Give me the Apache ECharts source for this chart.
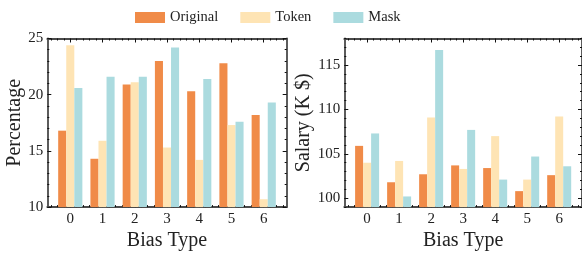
<!DOCTYPE html>
<html><head><meta charset="utf-8">
<script src="https://cdn.jsdelivr.net/npm/echarts@6/dist/echarts.min.js"></script>
<style>html,body{margin:0;padding:0;background:#fff}#c{width:582px;height:256px}</style>
</head><body><div id="c"></div>
<script>
var categories = [0, 1, 2, 3, 4, 5, 6];
var seriesNames = ['Original', 'Token', 'Mask'];
var pctOriginal = [16.8, 14.3, 20.9, 23.0, 20.3, 22.8, 18.2];
var pctToken    = [24.4, 15.9, 21.1, 15.3, 14.2, 17.3, 10.7];
var pctMask     = [20.6, 21.6, 21.6, 24.2, 21.4, 17.6, 19.3];
var salOriginal = [105.9, 101.8, 102.7, 103.7, 103.4, 100.8, 102.6];
var salToken    = [104.0, 104.2, 109.1, 103.3, 107.0, 102.1, 109.2];
var salMask     = [107.3, 100.2, 116.7, 107.7, 102.1, 104.7, 103.6];
var leftTicks = [10, 15, 20, 25];
var rightTicks = [100, 105, 110, 115];

var colors = ['#f08b48', '#fee4b4', '#abdbdf'];
var FONT = '"Liberation Serif", "Times New Roman", serif';
var SPINE = '#4a4a4a';
var TXT = '#222';

var xMin = -0.7125, xMax = 6.7125;
var minorX = [];
for (var k = -3; k <= 33; k++) { var v = Math.round(k * 0.2 * 10) / 10; if (Math.abs(v - Math.round(v)) > 1e-6) minorX.push(v); }

var grids = [
  {left: 47.3, top: 38.5, width: 239.4, height: 174.8},
  {left: 344.3, top: 38.5, width: 239.4, height: 174.8}
];
var yConf = [
  {min: 10, max: 25, major: leftTicks, name: 'Percentage', nameGap: 21},
  {min: 99, max: 118, major: rightTicks, name: 'Salary (K $)', nameGap: 29}
];

var xAxes = [], yAxes = [];
function tickStyle(len){ return {show: true, inside: true, length: len, lineStyle: {color: '#111', width: 1}}; }
var hiddenLine = {show: false, onZero: false};
grids.forEach(function(g, gi){
  xAxes.push({type: 'value', gridIndex: gi, position: 'bottom', min: xMin, max: xMax,
    axisLine: {show: true, onZero: false, lineStyle: {color: SPINE, width: 1.8}},
    axisTick: Object.assign(tickStyle(4), {customValues: categories}),
    axisLabel: {show: true, customValues: categories, margin: 4, color: TXT, fontFamily: FONT, fontSize: 15},
    splitLine: {show: false},
    name: 'Bias Type', nameLocation: 'middle', nameGap: 18,
    nameTextStyle: {fontFamily: FONT, fontSize: 20, color: TXT}
  });
  xAxes.push({type: 'value', gridIndex: gi, position: 'bottom', min: xMin, max: xMax,
    axisLine: hiddenLine, axisTick: Object.assign(tickStyle(2), {customValues: minorX}),
    axisLabel: {show: false}, splitLine: {show: false}});
  xAxes.push({type: 'value', gridIndex: gi, position: 'top', min: xMin, max: xMax,
    axisLine: {show: true, onZero: false, lineStyle: {color: SPINE, width: 1.8}},
    axisTick: Object.assign(tickStyle(4), {customValues: categories}),
    axisLabel: {show: false}, splitLine: {show: false}});
  xAxes.push({type: 'value', gridIndex: gi, position: 'top', min: xMin, max: xMax,
    axisLine: hiddenLine, axisTick: Object.assign(tickStyle(2), {customValues: minorX}),
    axisLabel: {show: false}, splitLine: {show: false}});

  var yc = yConf[gi];
  var minorY = [];
  for (var t = yc.min; t <= yc.max; t++) { if (yc.major.indexOf(t) < 0) minorY.push(t); }
  yAxes.push({type: 'value', gridIndex: gi, position: 'left', min: yc.min, max: yc.max,
    axisLine: {show: true, onZero: false, lineStyle: {color: SPINE, width: 1.8}},
    axisTick: Object.assign(tickStyle(4), {customValues: yc.major}),
    axisLabel: {show: true, customValues: yc.major, margin: 4, color: TXT, fontFamily: FONT, fontSize: 15},
    splitLine: {show: false},
    name: yc.name, nameLocation: 'middle', nameGap: yc.nameGap, nameRotate: 90,
    nameTextStyle: {fontFamily: FONT, fontSize: 20, color: TXT}
  });
  yAxes.push({type: 'value', gridIndex: gi, position: 'left', min: yc.min, max: yc.max,
    axisLine: hiddenLine, axisTick: Object.assign(tickStyle(2), {customValues: minorY}),
    axisLabel: {show: false}, splitLine: {show: false}});
  yAxes.push({type: 'value', gridIndex: gi, position: 'right', min: yc.min, max: yc.max,
    axisLine: {show: true, onZero: false, lineStyle: {color: SPINE, width: 1.8}},
    axisTick: Object.assign(tickStyle(4), {customValues: yc.major}),
    axisLabel: {show: false}, splitLine: {show: false}});
  yAxes.push({type: 'value', gridIndex: gi, position: 'right', min: yc.min, max: yc.max,
    axisLine: hiddenLine, axisTick: Object.assign(tickStyle(2), {customValues: minorY}),
    axisLabel: {show: false}, splitLine: {show: false}});
});

function pairs(vals){ return categories.map(function(c, i){ return [c, vals[i]]; }); }
var panelData = [[pctOriginal, pctToken, pctMask], [salOriginal, salToken, salMask]];
var series = [];
panelData.forEach(function(set, gi){
  set.forEach(function(vals, si){
    series.push({type: 'bar', name: seriesNames[si], xAxisIndex: gi * 4, yAxisIndex: gi * 4,
      data: pairs(vals), barWidth: '25%', barGap: '0%', itemStyle: {color: colors[si]},
      emphasis: {disabled: true}, animation: false});
  });
});

var chart = echarts.init(document.getElementById('c'), null, {renderer: 'canvas'});
chart.setOption({
  animation: false,
  color: colors,
  legend: {data: seriesNames, left: 130, top: 5, icon: 'rect', itemWidth: 30, itemHeight: 11, itemGap: 22,
    textStyle: {fontFamily: FONT, fontSize: 14.5, color: TXT}},
  grid: grids,
  xAxis: xAxes,
  yAxis: yAxes,
  series: series
});
</script></body></html>
